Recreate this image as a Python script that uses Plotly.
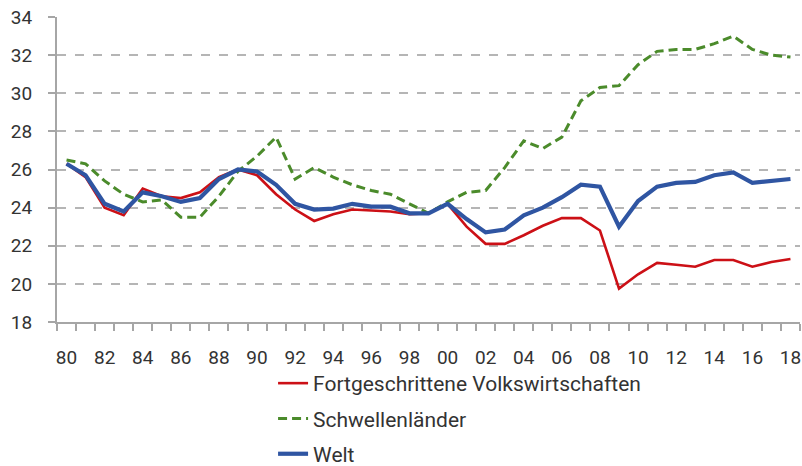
import plotly.graph_objects as go

years = list(range(1980, 2019))

fortgeschrittene = [26.3, 25.6, 24.0, 23.6, 25.0, 24.6, 24.5, 24.8, 25.6, 26.0,
                    25.7, 24.7, 23.9, 23.3, 23.65, 23.9, 23.85, 23.8, 23.65, 23.7,
                    24.2, 23.0, 22.1, 22.1, 22.55, 23.05, 23.45, 23.45, 22.8, 19.75,
                    20.5, 21.1, 21.0, 20.9, 21.25, 21.25, 20.9, 21.15, 21.3]

schwellenlaender = [26.5, 26.3, 25.4, 24.7, 24.3, 24.4, 23.5, 23.5, 24.6, 25.9,
                    26.7, 27.7, 25.5, 26.1, 25.6, 25.2, 24.9, 24.7, 24.2, 23.7,
                    24.3, 24.8, 24.9, 26.1, 27.5, 27.1, 27.7, 29.6, 30.3, 30.4,
                    31.5, 32.2, 32.3, 32.3, 32.6, 33.0, 32.3, 32.0, 31.9]

welt = [26.3, 25.7, 24.2, 23.8, 24.8, 24.6, 24.3, 24.5, 25.5, 26.0,
        25.9, 25.2, 24.2, 23.9, 23.95, 24.2, 24.05, 24.05, 23.7, 23.7,
        24.2, 23.4, 22.7, 22.85, 23.6, 24.0, 24.55, 25.2, 25.1, 23.0,
        24.35, 25.1, 25.3, 25.35, 25.7, 25.85, 25.3, 25.4, 25.5]

label_years = list(range(1980, 2019, 2))
label_text = [f"{y % 100:02d}" for y in label_years]
y_ticks = list(range(18, 35, 2))

series_names = ["Fortgeschrittene Volkswirtschaften", "Schwellenländer", "Welt"]

FONT = "Roboto, 'Noto Sans', sans-serif"
TXT = "#333333"
AX = "#a6a6a6"

W, H = 802, 466

fig = go.Figure()
fig.add_trace(go.Scatter(x=years, y=fortgeschrittene, mode="lines", name=series_names[0],
                         line=dict(color="#cc1016", width=2.6), legendgroup="a"))
fig.add_trace(go.Scatter(x=years, y=schwellenlaender, mode="lines", name=series_names[1],
                         line=dict(color="#4b8b2b", width=3, dash="9px,5px"), legendgroup="b"))
fig.add_trace(go.Scatter(x=years, y=welt, mode="lines", name=series_names[2],
                         line=dict(color="#2f55a2", width=4.2), legendgroup="c"))

fig.update_layout(
    width=W, height=H,
    margin=dict(l=57, r=2, t=17, b=144, autoexpand=False),
    paper_bgcolor="white", plot_bgcolor="white",
    font=dict(family=FONT, size=19, color=TXT),
    showlegend=True,
    legend=dict(x=0.2908, xanchor="left", y=1 - 363 / H, yanchor="top",
                yref="container",
                orientation="v", tracegroupgap=5,
                font=dict(family=FONT, size=21, color=TXT),
                bgcolor="rgba(0,0,0,0)"),
    xaxis=dict(range=[1979.5, 2018.5], tickvals=label_years, ticktext=label_text,
               ticks="outside", ticklen=17, tickcolor="rgba(0,0,0,0)",
               showgrid=False, zeroline=False, automargin=False,
               showline=True, linecolor=AX, linewidth=2,
               tickfont=dict(family=FONT, size=19, color=TXT),
               minor=dict(tick0=1979.5, dtick=1, ticks="outside", ticklen=7,
                          tickcolor=AX, tickwidth=1.5, showgrid=False)),
    yaxis=dict(range=[17.999, 34.001], tickvals=y_ticks, automargin=False,
               ticks="outside", ticklen=7, tickcolor=AX, tickwidth=1.5,
               ticklabelstandoff=12,
               showgrid=True, gridcolor="#b5b5b5", gridwidth=1.5, griddash="dash",
               zeroline=False, showline=True, linecolor=AX, linewidth=2,
               tickfont=dict(family=FONT, size=19, color=TXT)),
)

fig.write_html("out.html",
               config={"displayModeBar": False},
               post_script="document.body.style.margin='0';document.body.style.overflow='hidden';")
